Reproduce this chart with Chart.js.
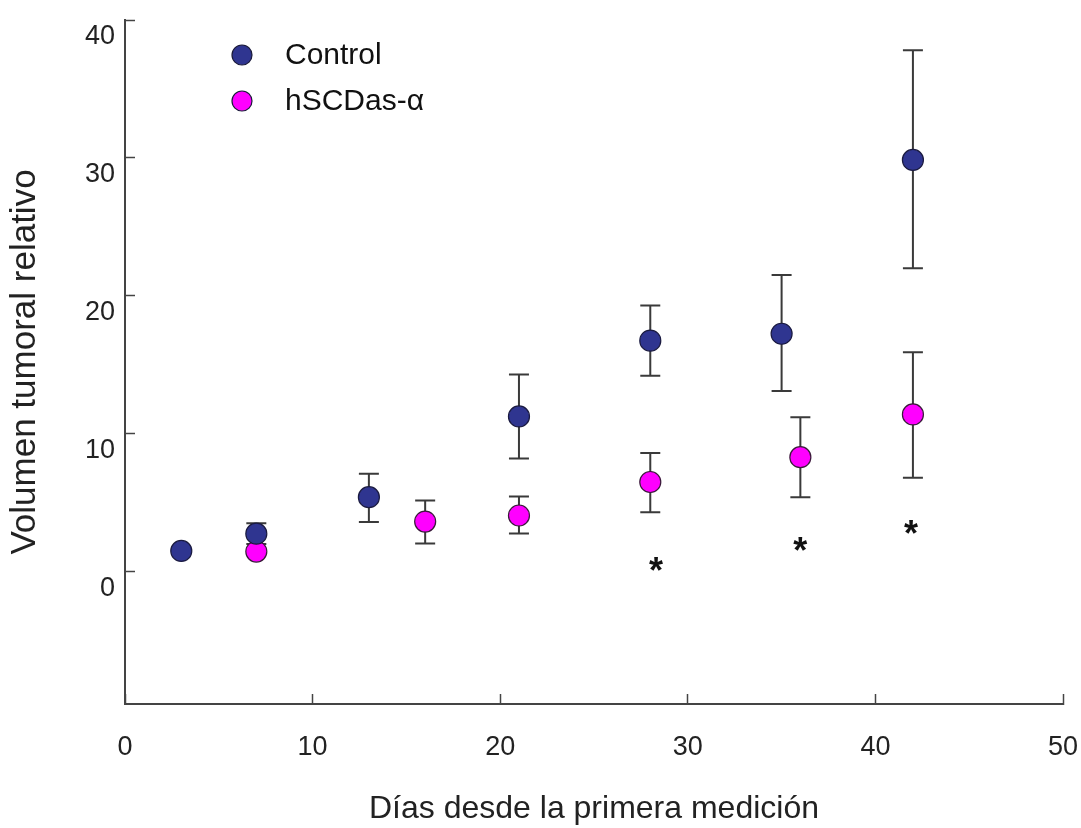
<!DOCTYPE html>
<html>
<head>
<meta charset="utf-8">
<script src="https://cdn.jsdelivr.net/npm/chart.js@4"></script>
<style>
html,body{margin:0;padding:0;background:#fff;}
#wrap{width:1081px;height:828px;}
</style>
</head>
<body>
<div id="wrap"><canvas id="chart"></canvas></div>
<script>
// data
const ctrlX = [3, 7, 13, 21, 28, 35, 42];
const ctrlY = [1.5, 2.75, 5.4, 11.25, 16.75, 17.25, 29.85];
const ctrlHi = [1.5, 3.5, 7.1, 14.3, 19.3, 21.5, 37.8];
const ctrlLo = [1.5, 2.0, 3.6, 8.2, 14.2, 13.1, 22.0];

const hscX = [7, 16, 21, 28, 36, 42];
const hscY = [1.45, 3.63, 4.07, 6.5, 8.3, 11.4];
const hscHi = [1.45, 5.15, 5.44, 8.6, 11.2, 15.9];
const hscLo = [1.45, 2.03, 2.76, 4.3, 5.4, 6.8];

// significance asterisks
const sigX = [28.3, 36, 41.9];
const sigY = [0.6, 2.1, 3.3];

const xTicks = [0, 10, 20, 30, 40, 50];
const yTicks = [0, 10, 20, 30, 40];

const FONT = "'Liberation Sans', Arial, sans-serif";
const CTRL_COLOR = "#2f3590";
const HSC_COLOR = "#ff00ff";

const toPts = (xs, ys) => xs.map((x, i) => ({x: x, y: ys[i]}));

/* error bars, drawn under the markers */
const errorBars = {
  id: "errorBars",
  beforeDatasetsDraw(chart) {
    const ctx = chart.ctx;
    const xs = chart.scales.x, ys = chart.scales.y;
    const sets = [[ctrlX, ctrlHi, ctrlLo], [hscX, hscHi, hscLo]];
    ctx.save();
    ctx.strokeStyle = "#3a3a3a";
    ctx.lineWidth = 2;
    sets.forEach(s => {
      s[0].forEach((x, i) => {
        if (s[1][i] === s[2][i]) return;
        const px = xs.getPixelForValue(x);
        const top = ys.getPixelForValue(s[1][i]);
        const bot = ys.getPixelForValue(s[2][i]);
        ctx.beginPath();
        ctx.moveTo(px, top); ctx.lineTo(px, bot);
        ctx.moveTo(px - 10, top); ctx.lineTo(px + 10, top);
        ctx.moveTo(px - 10, bot); ctx.lineTo(px + 10, bot);
        ctx.stroke();
      });
    });
    ctx.restore();
  }
};

/* asterisks + legend */
const extras = {
  id: "extras",
  afterDatasetsDraw(chart) {
    const ctx = chart.ctx;
    const xs = chart.scales.x, ys = chart.scales.y;
    ctx.save();
    ctx.fillStyle = "#111";
    ctx.font = "bold 36px " + FONT;
    ctx.textAlign = "center";
    ctx.textBaseline = "alphabetic";
    sigX.forEach((x, i) => {
      ctx.fillText("*", xs.getPixelForValue(x), ys.getPixelForValue(sigY[i]) + 20);
    });

    // legend
    const items = [["Control", CTRL_COLOR], ["hSCDas-\u03b1", HSC_COLOR]];
    ctx.font = "30px " + FONT;
    ctx.textAlign = "left";
    ctx.textBaseline = "middle";
    items.forEach((it, i) => {
      const y = 55 + i * 46;
      ctx.beginPath();
      ctx.arc(242, y, 10, 0, Math.PI * 2);
      ctx.fillStyle = it[1];
      ctx.fill();
      ctx.lineWidth = 1.2;
      ctx.strokeStyle = "#1a1a3a";
      ctx.stroke();
      ctx.fillStyle = "#111";
      ctx.fillText(it[0], 285, y + 1);
    });
    ctx.restore();
  }
};

new Chart(document.getElementById("chart"), {
  type: "scatter",
  data: {
    datasets: [
      {
        label: "Control",
        data: toPts(ctrlX, ctrlY),
        backgroundColor: CTRL_COLOR,
        borderColor: "#1a1a40",
        borderWidth: 1.2,
        pointRadius: 10.5,
        pointHoverRadius: 10.5
      },
      {
        label: "hSCDas-\u03b1",
        data: toPts(hscX, hscY),
        backgroundColor: HSC_COLOR,
        borderColor: "#3a1a3a",
        borderWidth: 1.2,
        pointRadius: 10.5,
        pointHoverRadius: 10.5
      }
    ]
  },
  options: {
    responsive: true,
    maintainAspectRatio: false,
    animation: false,
    layout: {padding: {top: 20, right: 18, left: 0, bottom: 0}},
    plugins: {legend: {display: false}, tooltip: {enabled: false}},
    scales: {
      x: {
        type: "linear",
        min: 0,
        max: 50,
        afterBuildTicks: s => { s.ticks = xTicks.map(v => ({value: v})); },
        afterFit: s => { s.height = 124; s.paddingLeft = 0; s.paddingRight = 0; },
        border: {display: true, color: "#444", width: 2},
        grid: {drawOnChartArea: false, drawTicks: true, tickLength: -10, color: "#444", tickColor: "#444", tickWidth: 1.5},
        ticks: {color: "#222", font: {family: FONT, size: 27}, padding: 37, maxRotation: 0},
        title: {
          display: true,
          text: "Días desde la primera medición",
          color: "#222",
          font: {family: FONT, size: 32},
          padding: {top: 2, bottom: 0}
        }
      },
      y: {
        type: "linear",
        min: -9.6,
        max: 40,
        afterBuildTicks: s => { s.ticks = yTicks.map(v => ({value: v})); },
        afterFit: s => { s.width = 125; s.paddingTop = 0; s.paddingBottom = 0; },
        border: {display: true, color: "#444", width: 2},
        grid: {drawOnChartArea: false, drawTicks: true, tickLength: -10, color: "#444", tickColor: "#444", tickWidth: 1.5},
        ticks: {color: "#222", font: {family: FONT, size: 27}, padding: 20, labelOffset: 17},
        title: {
          display: true,
          text: "Volumen tumoral relativo",
          color: "#222",
          font: {family: FONT, size: 35},
          padding: {top: 4, bottom: 0}
        }
      }
    }
  },
  plugins: [errorBars, extras]
});
</script>
</body>
</html>
